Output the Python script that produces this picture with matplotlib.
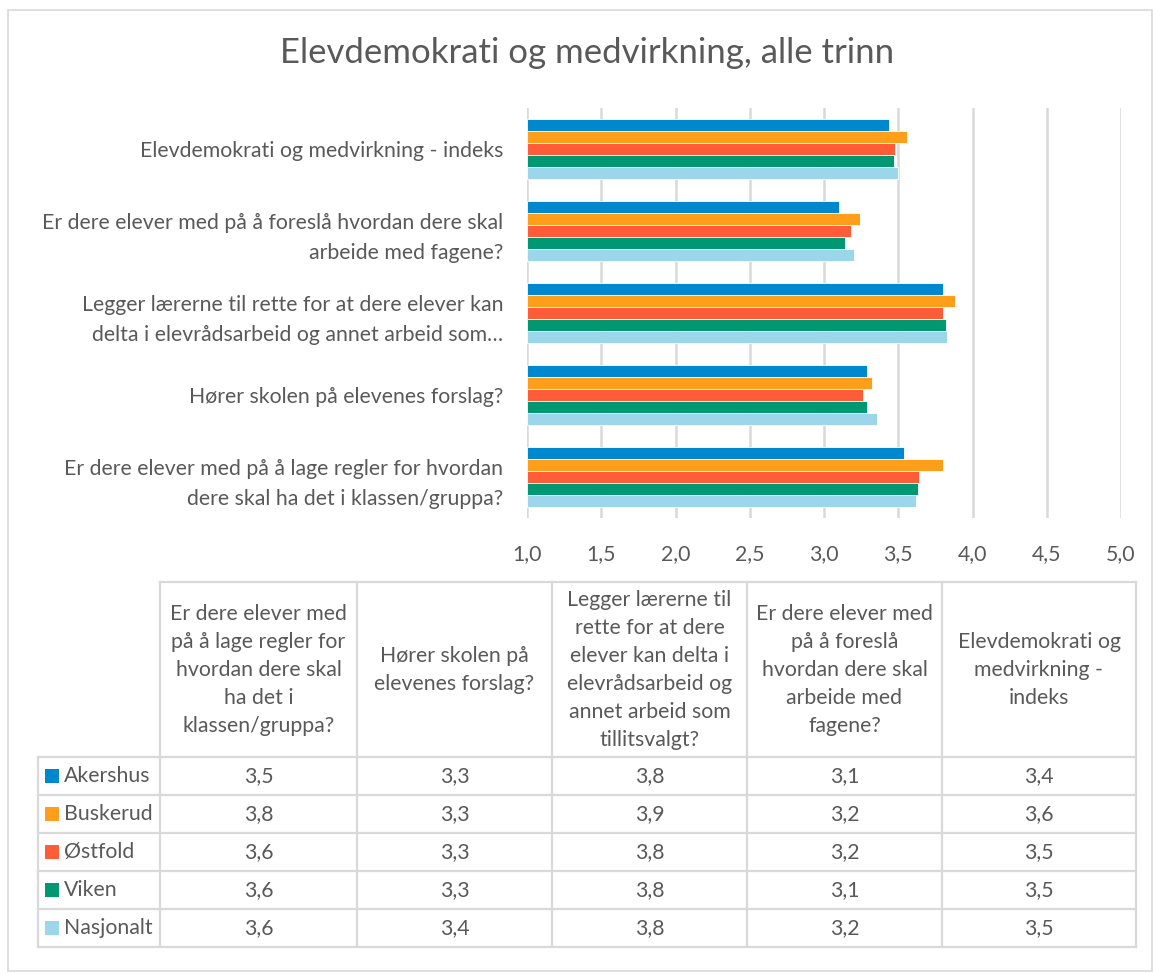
import matplotlib
matplotlib.use("Agg")
import matplotlib.pyplot as plt
from matplotlib.patches import Rectangle

# ---------------- data ----------------
categories = [
    "Elevdemokrati og medvirkning - indeks",
    "Er dere elever med på å foreslå hvordan dere skal arbeide med fagene?",
    "Legger lærerne til rette for at dere elever kan delta i elevrådsarbeid og annet arbeid som tillitsvalgt?",
    "Hører skolen på elevenes forslag?",
    "Er dere elever med på å lage regler for hvordan dere skal ha det i klassen/gruppa?",
]
axis_labels = [
    "Elevdemokrati og medvirkning - indeks",
    "Er dere elever med på å foreslå hvordan dere skal\narbeide med fagene?",
    "Legger lærerne til rette for at dere elever kan\ndelta i elevrådsarbeid og annet arbeid som…",
    "Hører skolen på elevenes forslag?",
    "Er dere elever med på å lage regler for hvordan\ndere skal ha det i klassen/gruppa?",
]
series = ["Akershus", "Buskerud", "Østfold", "Viken", "Nasjonalt"]
# values per series, in category order above (index, foreslå, legger, hører, regler)
akershus = [3.44, 3.10, 3.80, 3.29, 3.54]
buskerud = [3.56, 3.24, 3.88, 3.32, 3.80]
ostfold = [3.48, 3.18, 3.80, 3.26, 3.64]
viken = [3.47, 3.14, 3.82, 3.29, 3.63]
nasjonalt = [3.50, 3.20, 3.83, 3.36, 3.62]
values = [akershus, buskerud, ostfold, viken, nasjonalt]
colors = ["#0088CE", "#FF9E1B", "#FF5C39", "#009873", "#9BD6EA"]

table_headers = [
    "Er dere elever med\npå å lage regler for\nhvordan dere skal\nha det i\nklassen/gruppa?",
    "Hører skolen på\nelevenes forslag?",
    "Legger lærerne til\nrette for at dere\nelever kan delta i\nelevrådsarbeid og\nannet arbeid som\ntillitsvalgt?",
    "Er dere elever med\npå å foreslå\nhvordan dere skal\narbeide med\nfagene?",
    "Elevdemokrati og\nmedvirkning -\nindeks",
]
table_order = [4, 3, 2, 1, 0]  # table columns -> category index
xticks = [1.0, 1.5, 2.0, 2.5, 3.0, 3.5, 4.0, 4.5, 5.0]

TXT = "#595959"
GRID = "#D9D9D9"
FONT = ["Lato", "DejaVu Sans"]
plt.rcParams["font.family"] = FONT
FS = 15.3

W, H = 1153, 974
fig = plt.figure(figsize=(W / 100, H / 100), dpi=100)

# ---------------- bar chart ----------------
px_l, px_r, px_t, px_b = 527, 1121, 108, 518
ax = fig.add_axes([px_l / W, 1 - px_b / H, (px_r - px_l) / W, (px_b - px_t) / H])
n = len(series)
bh = 0.146
for s, (name, vals, c) in enumerate(zip(series, values, colors)):
    ys = [i + (s - (n - 1) / 2) * bh for i in range(len(categories))]
    ax.barh(ys, [v - 1.0 for v in vals], left=1.0, height=bh, color=c,
            edgecolor="white", linewidth=0.6, zorder=3)
ax.set_xlim(1.0, 5.0)
ax.set_ylim(4.5, -0.5)
ax.set_xticks(xticks)
ax.set_xticklabels([f"{t:.1f}".replace(".", ",") for t in xticks])
ax.set_yticks(range(len(categories)))
ax.set_yticklabels(axis_labels, ha="right", multialignment="right", linespacing=1.6)
ax.tick_params(axis="y", length=0, pad=17, labelsize=FS, colors=TXT)
ax.tick_params(axis="x", length=0, pad=19, labelsize=FS, colors=TXT)
ax.grid(axis="x", color=GRID, linewidth=1.8, zorder=0)
for sp in ax.spines.values():
    sp.set_visible(False)

fig.text(587 / W, 1 - 53 / H, "Elevdemokrati og medvirkning, alle trinn",
         ha="center", va="center", fontsize=25, color=TXT)

# ---------------- data table ----------------
tx = fig.add_axes([0, 0, 1, 1], zorder=-1)
tx.set_xlim(0, W)
tx.set_ylim(H, 0)
tx.axis("off")

# outer frame
tx.add_patch(Rectangle((8, 10), W - 9, H - 13, fill=False, edgecolor=GRID, linewidth=1.2))

col_x = [160, 357, 552, 747, 942, 1136]
left_x = 38
head_top, head_bot = 582, 757
row_y = [757, 795, 833, 871, 909, 947]
lw = 1.6
# horizontal lines
tx.plot([col_x[0], col_x[-1]], [head_top, head_top], color=GRID, lw=lw)
for y in row_y:
    tx.plot([left_x, col_x[-1]], [y, y], color=GRID, lw=lw)
# vertical lines
for x in col_x:
    tx.plot([x, x], [head_top, row_y[-1]], color=GRID, lw=lw)
tx.plot([left_x, left_x], [row_y[0], row_y[-1]], color=GRID, lw=lw)

# headers
for j, h in enumerate(table_headers):
    cx = (col_x[j] + col_x[j + 1]) / 2
    tx.text(cx, (head_top + head_bot) / 2 + 1, h, ha="center", va="center",
            fontsize=FS, color=TXT, linespacing=1.5)

# rows
for r, (name, vals, c) in enumerate(zip(series, values, colors)):
    cy = (row_y[r] + row_y[r + 1]) / 2
    tx.add_patch(Rectangle((45, cy - 7), 14, 14, facecolor=c, edgecolor="none"))
    tx.text(64, cy, name, ha="left", va="center", fontsize=FS, color=TXT)
    for j, ci in enumerate(table_order):
        cx = (col_x[j] + col_x[j + 1]) / 2
        tx.text(cx, cy, f"{vals[ci]:.1f}".replace(".", ","), ha="center",
                va="center", fontsize=FS, color=TXT)

fig.savefig("out.png", dpi=100, facecolor="white")
